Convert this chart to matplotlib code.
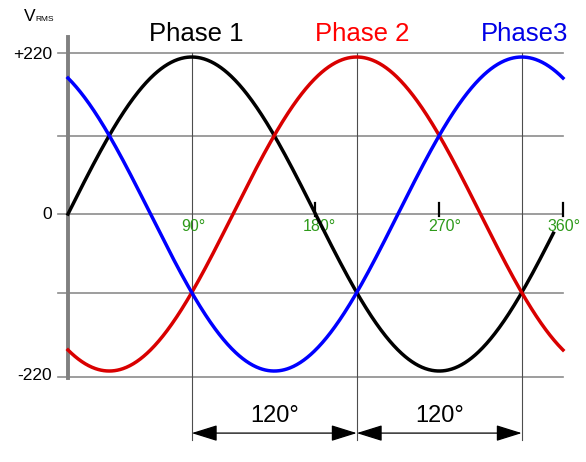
import numpy as np
import matplotlib.pyplot as plt

plt.rcParams['font.family'] = ['Liberation Sans', 'DejaVu Sans']

# Data
AMPLITUDE = 220
phase_names = ['Phase 1', 'Phase 2', 'Phase3']
phase_shifts = [0, 120, 240]          # degrees
phase_ends = [353, 360, 360]          # where each drawn curve stops
phase_colors = ['#000000', '#d90000', '#0000ff']
title_colors = ['#000000', '#ff0000', '#0000e6']
title_x = [93, 214, 332]

tick_degrees = [90, 180, 270, 360]
tick_labels = ['90°', '180°', '270°', '360°']
tick_label_x = [91.5, 182.5, 274, 360.7]

grid_levels = [226, 110, 0, -110, -228]
peak_lines = [90, 210, 330]
y_labels = ['+220', '0', '-220']
y_label_pos = [223, 0, -226]

fig = plt.figure(figsize=(5.86, 4.62), dpi=100)
ax = fig.add_axes([0, 0, 1, 1])
ax.set_xlim(-49.45, 376.73)
ax.set_ylim(-347.5, 299.9)
ax.axis('off')

# horizontal grid
for lvl in grid_levels:
    ax.plot([-7.5, 360], [lvl, lvl], color='#8c8c8c', lw=1.2, zorder=1)

# vertical lines through peaks, down to the dimension arrows
for xv in peak_lines:
    ax.plot([xv, xv], [226, -317], color='#4d4d4d', lw=0.8, zorder=1)

# y axis
ax.plot([0, 0], [248, -230], color='#808080', lw=2.8, zorder=2)

# tick marks
for xt in tick_degrees[1:]:
    ax.plot([xt, xt], [16, -3], color='black', lw=1.6, zorder=2)

# tick labels
for xl, lab in zip(tick_label_x, tick_labels):
    ax.text(xl, -17, lab, color='#2e9a1a', fontsize=11.5, ha='center', va='center')

# curves
for shift, end, col in zip(phase_shifts, phase_ends, phase_colors):
    theta = np.linspace(0, end, 721)
    ax.plot(theta, AMPLITUDE * np.sin(np.radians(theta - shift)), color=col, lw=2.5, zorder=3)

# titles
for name, xt, col in zip(phase_names, title_x, title_colors):
    ax.text(xt, 243, name, color=col, fontsize=18.5, ha='center', va='baseline')

# y labels
for lab, yp in zip(y_labels, y_label_pos):
    ax.text(-11.6, yp, lab, fontsize=12.5, ha='right', va='center')
ax.text(-32, 271, 'V', fontsize=12.5, ha='left', va='baseline')
ax.text(-23.6, 271, 'RMS', fontsize=6, ha='left', va='baseline')

# dimension arrows
for a, b in zip(peak_lines[:-1], peak_lines[1:]):
    ax.annotate('', xy=(b, -307), xytext=(a, -307),
                arrowprops=dict(arrowstyle='<|-|>,head_length=1.6,head_width=0.5',
                                color='black', lw=0.9, shrinkA=0, shrinkB=0,
                                mutation_scale=10))
    ax.text((a + b) / 2, -283, '120°', fontsize=17, ha='center', va='center')

fig.savefig('out.png', dpi=100)
